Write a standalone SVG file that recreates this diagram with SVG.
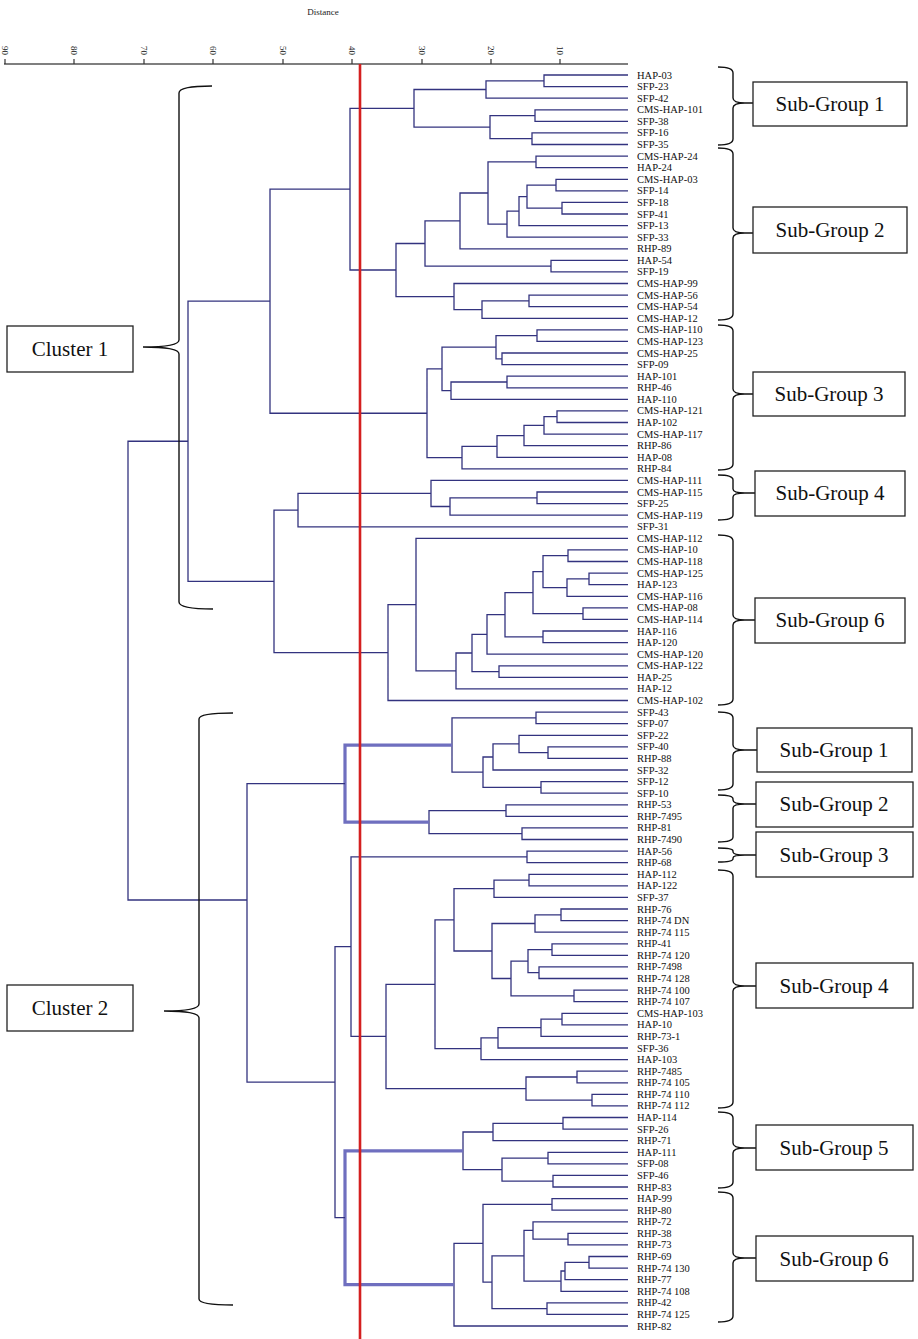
<svg xmlns="http://www.w3.org/2000/svg" width="918" height="1339" viewBox="0 0 918 1339">
<style>
.ln{fill:none;stroke:#33337f;stroke-width:1.3}
.thk{fill:none;stroke:#6f6fbf;stroke-width:3.2}
.lbl{font-family:"Liberation Serif","Times New Roman",serif;font-size:10.5px;fill:#111}
.br{fill:none;stroke:#111;stroke-width:1.4}
.bx{fill:#fff;stroke:#222;stroke-width:1.3}
.bt{font-family:"Liberation Serif","Times New Roman",serif;font-size:21px;fill:#111;text-anchor:middle}
.ax{font-family:"Liberation Serif","Times New Roman",serif;font-size:9px;fill:#222}
</style>
<rect width="918" height="1339" fill="#fff"/>
<g id="axis">
<text class="ax" x="323" y="15" text-anchor="middle">Distance</text>
<line x1="4" y1="64" x2="628" y2="64" stroke="#555" stroke-width="1.5"/>
<g stroke="#333" stroke-width="1.2">
<line x1="5" y1="59" x2="5" y2="64"/><line x1="74" y1="59" x2="74" y2="64"/><line x1="144" y1="59" x2="144" y2="64"/><line x1="213" y1="59" x2="213" y2="64"/><line x1="283" y1="59" x2="283" y2="64"/><line x1="352" y1="59" x2="352" y2="64"/><line x1="422" y1="59" x2="422" y2="64"/><line x1="491" y1="59" x2="491" y2="64"/><line x1="560" y1="59" x2="560" y2="64"/>
</g>
<g class="ax">
<text transform="translate(2,46) rotate(90)">90</text>
<text transform="translate(71,46) rotate(90)">80</text>
<text transform="translate(141,46) rotate(90)">70</text>
<text transform="translate(210,46) rotate(90)">60</text>
<text transform="translate(280,46) rotate(90)">50</text>
<text transform="translate(349,46) rotate(90)">40</text>
<text transform="translate(419,46) rotate(90)">30</text>
<text transform="translate(488,46) rotate(90)">20</text>
<text transform="translate(557,46) rotate(90)">10</text>
</g>
</g>
<g id="connectors">
<path class="ln" d="M628 75 H544 V86.6 H628 M544 80.8 H486 V98.2 H628 M628 109.8 H535 V121.3 H628 M628 132.9 H532 V144.5 H628 M535 115.55 H490 V138.7 H532 M486 89.5 H414 V127.1 H490"/>
<path class="ln" d="M628 156.1 H536 V167.7 H628 M628 179.3 H556 V190.8 H628 M628 202.4 H562 V214 H628 M556 185.05 H527 V208.2 H562 M527 196.6 H519 V225.6 H628 M519 211.1 H507 V237.2 H628 M536 161.9 H488 V224.15 H507 M488 193 H460 V248.8 H628 M628 260.3 H551 V271.9 H628 M460 220.9 H425 V266.1 H551 M628 295.1 H529 V306.7 H628 M529 300.9 H482 V318.3 H628 M628 283.5 H454 V309.6 H482 M425 243.5 H396 V296.55 H454"/>
<path class="ln" d="M414 108.3 H350 V270 H396"/>
<path class="ln" d="M628 329.8 H537 V341.4 H628 M628 353 H502 V364.6 H628 M537 335.6 H496 V358.8 H502 M628 376.2 H507 V387.8 H628 M507 382 H451 V399.3 H628 M496 347.2 H442 V390.65 H451 M628 410.9 H557 V422.5 H628 M557 416.7 H544 V434.1 H628 M544 425.4 H524 V445.7 H628 M524 435.55 H497 V457.3 H628 M497 446.4 H462 V468.8 H628 M442 368.9 H427 V457.6 H462"/>
<path class="ln" d="M350 189.2 H270 V413.25 H427"/>
<path class="ln" d="M628 492 H537 V503.6 H628 M537 497.8 H450 V515.2 H628 M628 480.4 H431 V506.5 H450 M431 493.45 H298 V526.8 H628"/>
<path class="ln" d="M628 549.9 H568 V561.5 H628 M628 573.1 H589 V584.7 H628 M589 578.9 H567 V596.3 H628 M568 555.7 H543 V587.6 H567 M628 607.8 H583 V619.4 H628 M543 571.65 H533 V613.6 H583 M628 631 H543 V642.6 H628 M533 592.6 H505 V636.8 H543 M505 614.7 H487 V654.2 H628 M628 665.8 H499 V677.3 H628 M487 634.45 H472 V671.55 H499 M472 653 H456 V688.9 H628 M628 538.3 H416 V670.95 H456 M416 604.6 H388 V700.5 H628"/>
<path class="ln" d="M298 510.1 H274 V652.55 H388 M270 301.2 H188 V581.3 H274"/>
<path class="ln" d="M628 712.1 H536 V723.7 H628 M628 746.8 H548 V758.4 H628 M628 735.3 H519 V752.6 H548 M519 743.95 H493 V770 H628 M628 781.6 H541 V793.2 H628 M493 757 H483 V787.4 H541 M536 717.9 H452 V772.2 H483 M628 804.8 H506 V816.3 H628 M628 827.9 H522 V839.5 H628 M506 810.55 H429 V833.7 H522"/>
<path class="thk" d="M452 745.05 H345 V822.1 H429"/>
<path class="ln" d="M628 851.1 H527 V862.7 H628"/>
<path class="ln" d="M628 874.3 H529 V885.8 H628 M529 880.05 H494 V897.4 H628 M628 909 H561 V920.6 H628 M561 914.8 H535 V932.2 H628 M628 943.8 H552 V955.3 H628 M628 966.9 H539 V978.5 H628 M552 949.55 H528 V972.7 H539 M628 990.1 H574 V1001.7 H628 M528 961.1 H511 V995.9 H574 M535 923.5 H492 V978.5 H511 M494 888.7 H454 V951 H492 M628 1013.3 H562 V1024.8 H628 M562 1019.05 H541 V1036.4 H628 M541 1027.7 H498 V1048 H628 M498 1037.85 H481 V1059.6 H628 M454 919.85 H435 V1048.7 H481 M628 1071.2 H577 V1082.8 H628 M628 1094.3 H592 V1105.9 H628 M577 1077 H526 V1100.1 H592 M435 984.3 H386 V1088.55 H526"/>
<path class="ln" d="M527 856.9 H351 V1036.4 H386"/>
<path class="ln" d="M628 1117.5 H563 V1129.1 H628 M563 1123.3 H493 V1140.7 H628 M628 1152.3 H548 V1163.8 H628 M628 1175.4 H553 V1187 H628 M548 1158.05 H502 V1181.2 H553 M493 1132 H463 V1169.6 H502"/>
<path class="ln" d="M628 1198.6 H552 V1210.2 H628 M628 1233.3 H568 V1244.9 H628 M628 1221.8 H533 V1239.1 H568 M628 1256.5 H589 V1268.1 H628 M589 1262.3 H565 V1279.7 H628 M565 1271 H561 V1291.3 H628 M533 1230.45 H524 V1281.15 H561 M628 1302.8 H547 V1314.4 H628 M524 1255.8 H492 V1308.6 H547 M552 1204.4 H483 V1282.2 H492 M483 1243.3 H454 V1326 H628"/>
<path class="thk" d="M463 1150.8 H345 V1284.65 H454"/>
<path class="ln" d="M351 946.65 H335 V1217.7 H345 M345 783.6 H247 V1082.2 H335 M188 441.25 H128 V900 H247"/>
<line x1="360" y1="64" x2="360" y2="1339" stroke="#d42020" stroke-width="2.6"/>
</g>
<g id="leaves" class="lbl">
<text id="n1" x="637" y="78.5">HAP-03</text>
<text id="n2" x="637" y="90.1">SFP-23</text>
<text id="n3" x="637" y="101.7">SFP-42</text>
<text id="n4" x="637" y="113.3">CMS-HAP-101</text>
<text id="n5" x="637" y="124.8">SFP-38</text>
<text id="n6" x="637" y="136.4">SFP-16</text>
<text id="n7" x="637" y="148">SFP-35</text>
<text id="n8" x="637" y="159.6">CMS-HAP-24</text>
<text id="n9" x="637" y="171.2">HAP-24</text>
<text id="n10" x="637" y="182.8">CMS-HAP-03</text>
<text id="n11" x="637" y="194.3">SFP-14</text>
<text id="n12" x="637" y="205.9">SFP-18</text>
<text id="n13" x="637" y="217.5">SFP-41</text>
<text id="n14" x="637" y="229.1">SFP-13</text>
<text id="n15" x="637" y="240.7">SFP-33</text>
<text id="n16" x="637" y="252.3">RHP-89</text>
<text id="n17" x="637" y="263.8">HAP-54</text>
<text id="n18" x="637" y="275.4">SFP-19</text>
<text id="n19" x="637" y="287">CMS-HAP-99</text>
<text id="n20" x="637" y="298.6">CMS-HAP-56</text>
<text id="n21" x="637" y="310.2">CMS-HAP-54</text>
<text id="n22" x="637" y="321.8">CMS-HAP-12</text>
<text id="n23" x="637" y="333.3">CMS-HAP-110</text>
<text id="n24" x="637" y="344.9">CMS-HAP-123</text>
<text id="n25" x="637" y="356.5">CMS-HAP-25</text>
<text id="n26" x="637" y="368.1">SFP-09</text>
<text id="n27" x="637" y="379.7">HAP-101</text>
<text id="n28" x="637" y="391.3">RHP-46</text>
<text id="n29" x="637" y="402.8">HAP-110</text>
<text id="n30" x="637" y="414.4">CMS-HAP-121</text>
<text id="n31" x="637" y="426">HAP-102</text>
<text id="n32" x="637" y="437.6">CMS-HAP-117</text>
<text id="n33" x="637" y="449.2">RHP-86</text>
<text id="n34" x="637" y="460.8">HAP-08</text>
<text id="n35" x="637" y="472.3">RHP-84</text>
<text id="n36" x="637" y="483.9">CMS-HAP-111</text>
<text id="n37" x="637" y="495.5">CMS-HAP-115</text>
<text id="n38" x="637" y="507.1">SFP-25</text>
<text id="n39" x="637" y="518.7">CMS-HAP-119</text>
<text id="n40" x="637" y="530.3">SFP-31</text>
<text id="n41" x="637" y="541.8">CMS-HAP-112</text>
<text id="n42" x="637" y="553.4">CMS-HAP-10</text>
<text id="n43" x="637" y="565">CMS-HAP-118</text>
<text id="n44" x="637" y="576.6">CMS-HAP-125</text>
<text id="n45" x="637" y="588.2">HAP-123</text>
<text id="n46" x="637" y="599.8">CMS-HAP-116</text>
<text id="n47" x="637" y="611.3">CMS-HAP-08</text>
<text id="n48" x="637" y="622.9">CMS-HAP-114</text>
<text id="n49" x="637" y="634.5">HAP-116</text>
<text id="n50" x="637" y="646.1">HAP-120</text>
<text id="n51" x="637" y="657.7">CMS-HAP-120</text>
<text id="n52" x="637" y="669.3">CMS-HAP-122</text>
<text id="n53" x="637" y="680.8">HAP-25</text>
<text id="n54" x="637" y="692.4">HAP-12</text>
<text id="n55" x="637" y="704">CMS-HAP-102</text>
<text id="n56" x="637" y="715.6">SFP-43</text>
<text id="n57" x="637" y="727.2">SFP-07</text>
<text id="n58" x="637" y="738.8">SFP-22</text>
<text id="n59" x="637" y="750.3">SFP-40</text>
<text id="n60" x="637" y="761.9">RHP-88</text>
<text id="n61" x="637" y="773.5">SFP-32</text>
<text id="n62" x="637" y="785.1">SFP-12</text>
<text id="n63" x="637" y="796.7">SFP-10</text>
<text id="n64" x="637" y="808.3">RHP-53</text>
<text id="n65" x="637" y="819.8">RHP-7495</text>
<text id="n66" x="637" y="831.4">RHP-81</text>
<text id="n67" x="637" y="843">RHP-7490</text>
<text id="n68" x="637" y="854.6">HAP-56</text>
<text id="n69" x="637" y="866.2">RHP-68</text>
<text id="n70" x="637" y="877.8">HAP-112</text>
<text id="n71" x="637" y="889.3">HAP-122</text>
<text id="n72" x="637" y="900.9">SFP-37</text>
<text id="n73" x="637" y="912.5">RHP-76</text>
<text id="n74" x="637" y="924.1">RHP-74 DN</text>
<text id="n75" x="637" y="935.7">RHP-74 115</text>
<text id="n76" x="637" y="947.3">RHP-41</text>
<text id="n77" x="637" y="958.8">RHP-74 120</text>
<text id="n78" x="637" y="970.4">RHP-7498</text>
<text id="n79" x="637" y="982">RHP-74 128</text>
<text id="n80" x="637" y="993.6">RHP-74 100</text>
<text id="n81" x="637" y="1005.2">RHP-74 107</text>
<text id="n82" x="637" y="1016.8">CMS-HAP-103</text>
<text id="n83" x="637" y="1028.3">HAP-10</text>
<text id="n84" x="637" y="1039.9">RHP-73-1</text>
<text id="n85" x="637" y="1051.5">SFP-36</text>
<text id="n86" x="637" y="1063.1">HAP-103</text>
<text id="n87" x="637" y="1074.7">RHP-7485</text>
<text id="n88" x="637" y="1086.3">RHP-74 105</text>
<text id="n89" x="637" y="1097.8">RHP-74 110</text>
<text id="n90" x="637" y="1109.4">RHP-74 112</text>
<text id="n91" x="637" y="1121">HAP-114</text>
<text id="n92" x="637" y="1132.6">SFP-26</text>
<text id="n93" x="637" y="1144.2">RHP-71</text>
<text id="n94" x="637" y="1155.8">HAP-111</text>
<text id="n95" x="637" y="1167.3">SFP-08</text>
<text id="n96" x="637" y="1178.9">SFP-46</text>
<text id="n97" x="637" y="1190.5">RHP-83</text>
<text id="n98" x="637" y="1202.1">HAP-99</text>
<text id="n99" x="637" y="1213.7">RHP-80</text>
<text id="n100" x="637" y="1225.3">RHP-72</text>
<text id="n101" x="637" y="1236.8">RHP-38</text>
<text id="n102" x="637" y="1248.4">RHP-73</text>
<text id="n103" x="637" y="1260">RHP-69</text>
<text id="n104" x="637" y="1271.6">RHP-74 130</text>
<text id="n105" x="637" y="1283.2">RHP-77</text>
<text id="n106" x="637" y="1294.8">RHP-74 108</text>
<text id="n107" x="637" y="1306.3">RHP-42</text>
<text id="n108" x="637" y="1317.9">RHP-74 125</text>
<text id="n109" x="637" y="1329.5">RHP-82</text>
</g>
<g id="braces" class="br">
<path d="M718 67 Q733 67 733 73 V98 Q733 103 745 103 Q733 103 733 108 V139 Q733 145 718 145 M745 103 H753"/>
<path d="M718 148 Q733 148 733 154 V228 Q733 233 745 233 Q733 233 733 238 V314 Q733 320 718 320 M745 233 H753"/>
<path d="M718 325 Q733 325 733 331 V389 Q733 394 745 394 Q733 394 733 399 V464 Q733 470 718 470 M745 394 H753"/>
<path d="M718 475 Q733 475 733 480 V489 Q733 493 745 493 Q733 493 733 497 V515 Q733 520 718 520 M745 493 H755"/>
<path d="M718 535 Q733 535 733 541 V615 Q733 620 745 620 Q733 620 733 625 V699 Q733 705 718 705 M745 620 H755"/>
<path d="M718 712 Q733 712 733 718 V745 Q733 750 745 750 Q733 750 733 755 V784 Q733 790 718 790 M745 750 H757"/>
<path d="M718 795 Q733 795 733 799 V800 Q733 804 745 804 Q733 804 733 808 V837 Q733 842 718 842 M745 804 H756"/>
<path d="M718 848 Q733 848 733 851 V852 Q733 855 745 855 Q733 855 733 858 V859 Q733 862 718 862 M745 855 H756"/>
<path d="M718 870 Q733 870 733 876 V981 Q733 986 745 986 Q733 986 733 991 V1102 Q733 1108 718 1108 M745 986 H756"/>
<path d="M718 1112 Q733 1112 733 1118 V1143 Q733 1148 745 1148 Q733 1148 733 1153 V1182 Q733 1188 718 1188 M745 1148 H756"/>
<path d="M718 1192 Q733 1192 733 1198 V1253 Q733 1258 745 1258 Q733 1258 733 1263 V1316 Q733 1322 718 1322 M745 1258 H756"/>
<path d="M212 86 Q179 86 179 93 V340 Q179 347 143 347 Q179 347 179 354 V602 Q179 609 213 609"/>
<path d="M233 713 Q199 713 199 719 V1004 Q199 1011 164 1011 Q199 1011 199 1018 V1299 Q199 1305 233 1305"/>
</g>
<g id="cluster1"><rect class="bx" x="7" y="326" width="126" height="46"/><text class="bt" x="70" y="356">Cluster 1</text></g>
<g id="cluster2"><rect class="bx" x="7" y="985" width="126" height="46"/><text class="bt" x="70" y="1015">Cluster 2</text></g>
<g id="c1-sg1"><rect class="bx" x="753" y="82" width="154" height="44"/><text class="bt" x="830" y="111">Sub-Group 1</text></g>
<g id="c1-sg2"><rect class="bx" x="753" y="207" width="154" height="46"/><text class="bt" x="830" y="237">Sub-Group 2</text></g>
<g id="c1-sg3"><rect class="bx" x="753" y="372" width="152" height="44"/><text class="bt" x="829" y="401">Sub-Group 3</text></g>
<g id="c1-sg4"><rect class="bx" x="755" y="471" width="150" height="45"/><text class="bt" x="830" y="500">Sub-Group 4</text></g>
<g id="c1-sg6"><rect class="bx" x="755" y="598" width="150" height="45"/><text class="bt" x="830" y="627">Sub-Group 6</text></g>
<g id="c2-sg1"><rect class="bx" x="757" y="728" width="155" height="44"/><text class="bt" x="834" y="757">Sub-Group 1</text></g>
<g id="c2-sg2"><rect class="bx" x="756" y="782" width="157" height="45"/><text class="bt" x="834" y="811">Sub-Group 2</text></g>
<g id="c2-sg3"><rect class="bx" x="756" y="832" width="157" height="45"/><text class="bt" x="834" y="862">Sub-Group 3</text></g>
<g id="c2-sg4"><rect class="bx" x="756" y="963" width="157" height="45"/><text class="bt" x="834" y="993">Sub-Group 4</text></g>
<g id="c2-sg5"><rect class="bx" x="756" y="1125" width="157" height="45"/><text class="bt" x="834" y="1155">Sub-Group 5</text></g>
<g id="c2-sg6"><rect class="bx" x="756" y="1236" width="157" height="45"/><text class="bt" x="834" y="1266">Sub-Group 6</text></g>
</svg>
